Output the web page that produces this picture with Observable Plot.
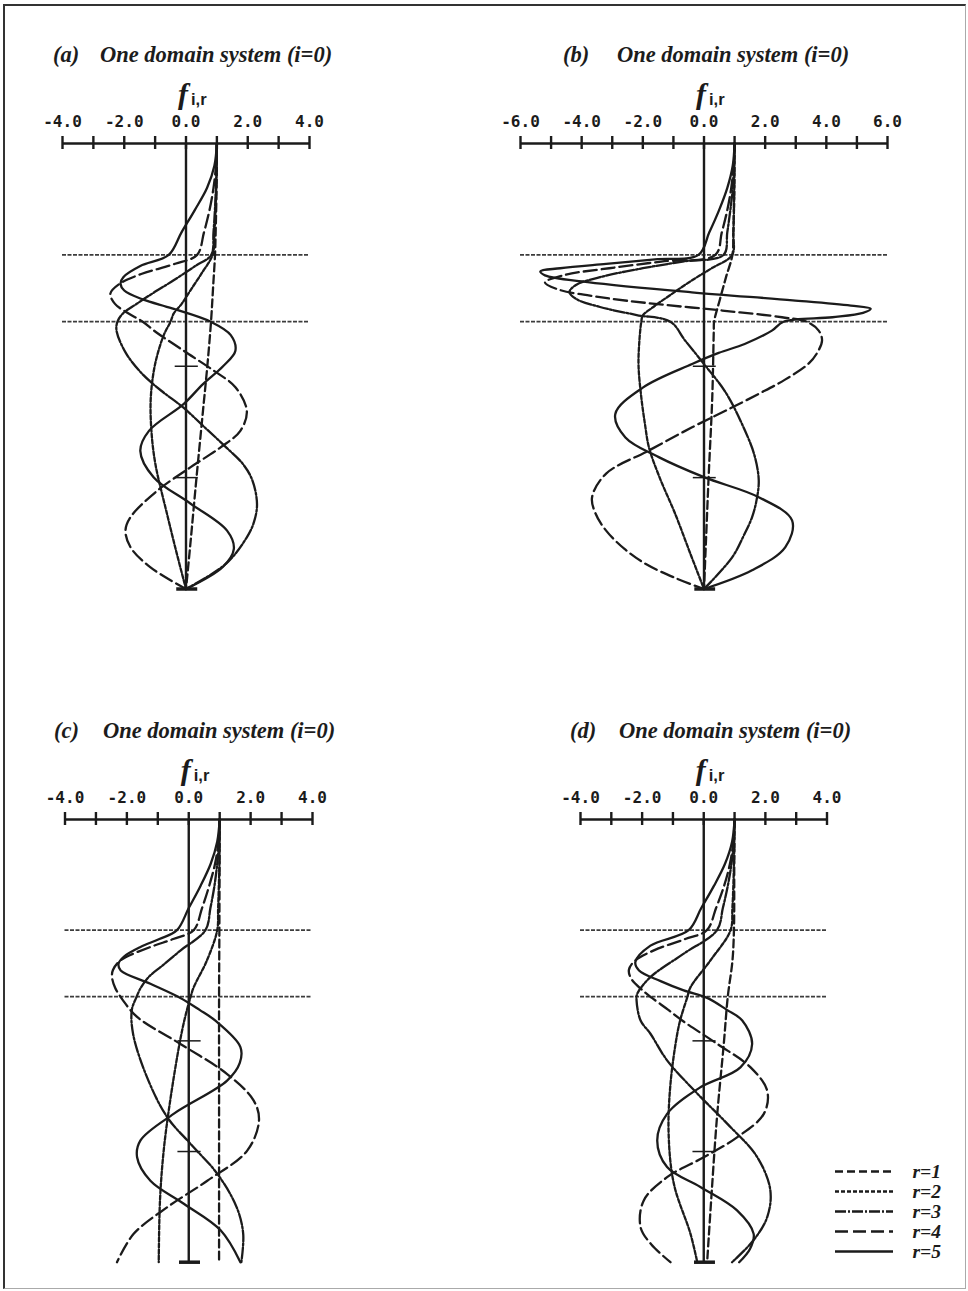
<!DOCTYPE html>
<html>
<head>
<meta charset="utf-8">
<script src="https://cdn.jsdelivr.net/npm/d3@7"></script>
<script src="https://cdn.jsdelivr.net/npm/@observablehq/plot@0.6"></script>
<style>
  body { margin: 0; background: #fff; }
  #page { position: relative; width: 968px; height: 1291px; overflow: hidden; background: #fff; }
  .panel { position: absolute; }
  .title { position: absolute; font-family: "Liberation Serif", "DejaVu Serif", serif; font-style: italic; font-weight: bold;
           font-size: 22.5px; line-height: 23px; color: #1c1c1c; white-space: nowrap; }
  .frame { position: absolute; left: 3px; top: 4px; width: 960px; height: 1282px; pointer-events: none;
           border-top: 2px solid #333; border-left: 2px solid #333; border-right: 1px solid #aaa; border-bottom: 1px solid #aaa; }
  g[aria-label="tick label"] text { letter-spacing: 2.2px; }
  g[aria-label="legend label"] text { letter-spacing: 0.8px; }
</style>
</head>
<body>
<div id="page"></div>
<script>
// Normalised depth (0 = surface, 1 = base); each pair is [depth, f_i,r]
const interfaceDepths = [0.25, 0.4];
const markerDepths = [0.5, 0.75];
const modeLabels = ["r=1", "r=2", "r=3", "r=4", "r=5"];

const ticks4 = [-4, -3, -2, -1, 0, 1, 2, 3, 4];
const labels4 = [-4, -2, 0, 2, 4];
const ticks6 = [-6, -5, -4, -3, -2, -1, 0, 1, 2, 3, 4, 5, 6];
const labels6 = [-6, -4, -2, 0, 2, 4, 6];

// (a)
const a_r1 = [[0,1],[0.1,0.99],[0.2,0.96],[0.25,0.94],[0.32,0.88],[0.4,0.81],[0.5,0.69],[0.6,0.55],[0.75,0.34],[0.9,0.14],[1,0]];
const a_r2 = [[0,1],[0.1,0.98],[0.2,0.92],[0.25,0.86],[0.29,0.52],[0.33,0.14],[0.36,-0.14],[0.382,-0.4],[0.4,-0.5],[0.43,-0.72],[0.495,-1.0],[0.57,-1.14],[0.645,-1.12],[0.72,-0.99],[0.83,-0.62],[0.92,-0.3],[1,0]];
const a_r3 = [[0,1],[0.1,0.97],[0.2,0.89],[0.25,0.82],[0.275,0.3],[0.307,-0.4],[0.335,-1.05],[0.36,-1.6],[0.382,-2.05],[0.4,-2.22],[0.42,-2.25],[0.47,-1.95],[0.517,-1.42],[0.555,-0.8],[0.592,-0.1],[0.64,0.65],[0.682,1.3],[0.72,1.85],[0.756,2.15],[0.81,2.3],[0.85,2.2],[0.884,1.97],[0.943,1.3],[1,0]];
const a_r4 = [[0,1],[0.05,0.97],[0.1,0.89],[0.15,0.76],[0.2,0.58],[0.25,0.36],[0.27,-0.35],[0.293,-1.45],[0.315,-2.15],[0.337,-2.45],[0.36,-2.3],[0.38,-1.9],[0.4,-1.4],[0.422,-1.0],[0.465,-0.08],[0.51,0.9],[0.547,1.6],[0.6,1.97],[0.645,1.76],[0.682,1.12],[0.727,0.14],[0.78,-0.94],[0.839,-1.8],[0.869,-1.96],[0.906,-1.8],[0.951,-1.16],[1,0]];
const a_r5 = [[0,1],[0.05,0.92],[0.1,0.68],[0.15,0.28],[0.2,-0.15],[0.25,-0.56],[0.275,-1.48],[0.3,-2.03],[0.315,-2.12],[0.33,-2.0],[0.35,-1.4],[0.37,-0.45],[0.4,0.8],[0.43,1.45],[0.465,1.6],[0.5,1.2],[0.54,0.55],[0.585,-0.08],[0.645,-1.2],[0.69,-1.48],[0.749,-1.05],[0.808,0.14],[0.869,1.33],[0.91,1.55],[0.95,1.2],[1,0]];

// (b)
const b_r1 = [[0,1],[0.1,0.99],[0.2,0.96],[0.25,0.93],[0.3,0.72],[0.35,0.52],[0.4,0.33],[0.42,0.32],[0.57,0.27],[0.75,0.15],[0.9,0.06],[1,0]];
const b_r2 = [[0,1],[0.1,0.99],[0.2,0.96],[0.25,0.92],[0.28,0.25],[0.307,-0.39],[0.34,-1.1],[0.37,-1.72],[0.386,-2.0],[0.4,-2.05],[0.45,-2.12],[0.5,-2.14],[0.57,-2.05],[0.63,-1.93],[0.682,-1.8],[0.75,-1.45],[0.83,-0.95],[0.92,-0.45],[1,0]];
const b_r3 = [[0,1],[0.1,0.94],[0.15,0.86],[0.2,0.76],[0.25,0.64],[0.265,-0.7],[0.28,-2.0],[0.3,-3.4],[0.318,-4.2],[0.334,-4.4],[0.35,-4.15],[0.367,-3.4],[0.385,-2.2],[0.4,-1.1],[0.442,-0.62],[0.495,0],[0.56,0.72],[0.646,1.35],[0.7,1.65],[0.756,1.79],[0.8,1.72],[0.839,1.57],[0.88,1.3],[0.929,0.92],[1,0]];
const b_r4 = [[0,1],[0.05,0.97],[0.1,0.89],[0.15,0.76],[0.2,0.58],[0.25,0.37],[0.265,-1.4],[0.28,-3.1],[0.295,-4.55],[0.312,-5.2],[0.328,-4.75],[0.345,-3.4],[0.36,-1.6],[0.375,0.6],[0.39,2.55],[0.4,3.35],[0.42,3.75],[0.442,3.86],[0.47,3.7],[0.494,3.42],[0.53,2.65],[0.562,1.79],[0.6,0.7],[0.637,-0.39],[0.689,-1.8],[0.741,-3.2],[0.794,-3.66],[0.83,-3.55],[0.869,-3.2],[0.91,-2.6],[0.944,-1.9],[0.975,-0.95],[1,0]];
const b_r5 = [[0,1],[0.05,0.94],[0.1,0.76],[0.15,0.49],[0.2,0.17],[0.25,-0.18],[0.26,-1.6],[0.27,-3.2],[0.28,-4.7],[0.287,-5.35],[0.296,-5.2],[0.311,-3.8],[0.334,-0.4],[0.352,2.9],[0.364,4.8],[0.371,5.45],[0.38,5.2],[0.39,4.2],[0.4,2.6],[0.42,2.22],[0.45,1.33],[0.47,0.48],[0.495,-0.39],[0.548,-2.0],[0.607,-2.9],[0.66,-2.57],[0.704,-1.48],[0.749,0],[0.794,1.79],[0.846,2.88],[0.906,2.66],[0.958,1.57],[1,0]];

// (c)
const c_r1 = [[0,1],[0.25,0.99],[0.4,0.98],[0.6,0.98],[0.8,0.98],[1,0.98]];
const c_r2 = [[0,1],[0.1,0.99],[0.2,0.95],[0.25,0.92],[0.318,0.59],[0.379,0.16],[0.403,0.05],[0.45,-0.13],[0.507,-0.3],[0.635,-0.6],[0.748,-0.81],[0.861,-0.93],[1,-0.97]];
const c_r3 = [[0,1],[0.05,0.98],[0.1,0.92],[0.15,0.83],[0.2,0.7],[0.25,0.54],[0.296,-0.27],[0.33,-0.85],[0.356,-1.3],[0.38,-1.55],[0.403,-1.7],[0.43,-1.84],[0.484,-1.8],[0.582,-1.35],[0.672,-0.7],[0.733,0.06],[0.8,0.92],[0.876,1.55],[0.936,1.76],[1,1.7]];
const c_r4 = [[0,1],[0.05,0.96],[0.1,0.85],[0.15,0.66],[0.2,0.43],[0.25,0.16],[0.27,-0.5],[0.288,-1.24],[0.318,-2.2],[0.34,-2.45],[0.356,-2.48],[0.38,-2.38],[0.409,-2.12],[0.447,-1.65],[0.507,-0.27],[0.575,1.24],[0.635,2.1],[0.68,2.27],[0.748,1.89],[0.816,0.6],[0.876,-0.7],[0.936,-1.78],[1,-2.32]];
const c_r5 = [[0,1],[0.05,0.92],[0.1,0.71],[0.15,0.38],[0.2,0.0],[0.25,-0.38],[0.27,-0.95],[0.288,-1.56],[0.31,-2.1],[0.326,-2.27],[0.341,-2.2],[0.371,-1.24],[0.403,-0.27],[0.43,0.35],[0.454,0.85],[0.514,1.67],[0.55,1.65],[0.59,1.24],[0.665,-0.49],[0.725,-1.56],[0.763,-1.67],[0.816,-1.24],[0.868,-0.16],[0.928,1.03],[1,1.67]];

// (d)
const d_r1 = [[0,1],[0.1,0.99],[0.25,0.98],[0.32,0.93],[0.4,0.78],[0.507,0.65],[0.672,0.43],[0.85,0.25],[1,0.11]];
const d_r2 = [[0,1],[0.1,0.98],[0.2,0.93],[0.25,0.87],[0.318,0.22],[0.379,-0.43],[0.403,-0.54],[0.447,-0.74],[0.484,-0.86],[0.597,-1.08],[0.71,-1.14],[0.823,-0.97],[0.936,-0.43],[1,-0.21]];
const d_r3 = [[0,1],[0.05,0.97],[0.1,0.9],[0.15,0.78],[0.2,0.62],[0.25,0.43],[0.303,-0.65],[0.356,-1.73],[0.394,-2.16],[0.409,-2.18],[0.454,-2.05],[0.484,-1.73],[0.544,-1.19],[0.619,-0.21],[0.687,0.76],[0.762,1.73],[0.837,2.16],[0.898,2.06],[0.95,1.62],[1,0.92]];
const d_r4 = [[0,1],[0.05,0.96],[0.1,0.85],[0.15,0.66],[0.2,0.4],[0.25,0.1],[0.27,-0.6],[0.295,-1.6],[0.32,-2.25],[0.34,-2.43],[0.36,-2.35],[0.385,-2.0],[0.403,-1.68],[0.43,-1.15],[0.454,-0.7],[0.507,0.44],[0.56,1.52],[0.613,2.06],[0.665,1.95],[0.718,1.08],[0.763,0],[0.808,-1.19],[0.861,-1.95],[0.921,-2.05],[0.96,-1.7],[1,-1.08]];
const d_r5 = [[0,1],[0.05,0.92],[0.1,0.69],[0.15,0.33],[0.2,-0.08],[0.25,-0.49],[0.285,-1.73],[0.322,-2.22],[0.341,-2.1],[0.365,-1.4],[0.386,-0.65],[0.403,0.11],[0.43,0.75],[0.454,1.25],[0.507,1.57],[0.56,1.19],[0.605,-0.11],[0.665,-1.19],[0.725,-1.51],[0.785,-1.19],[0.83,-0.11],[0.883,1.08],[0.936,1.62],[0.97,1.5],[1,1.15]];

const ink = "#1b1b1b";
const dashes = ["8,4", "4,2", "11,2,2,2", "13,5", null];
const curveWidth = 2.3;

const page = document.getElementById("page");

function place(node, left, top) {
  const wrap = document.createElement("div");
  wrap.className = "panel";
  wrap.style.left = left + "px";
  wrap.style.top = top + "px";
  wrap.appendChild(node);
  page.appendChild(wrap);
}

function title(letter, left, rest, restLeft, top) {
  const a = document.createElement("div");
  a.className = "title"; a.textContent = letter;
  a.style.left = left + "px"; a.style.top = top + "px";
  const b = document.createElement("div");
  b.className = "title"; b.textContent = rest;
  b.style.left = restLeft + "px"; b.style.top = top + "px";
  page.appendChild(a); page.appendChild(b);
}

function modePanel({curves, domain, ticks, labels, width, height, marginLeft, marginRight, marginTop, marginBottom}) {
  const [x0, x1] = domain;
  const h = height - marginTop - marginBottom;
  const px = (p) => p / h; // pixel offset expressed in depth units
  return Plot.plot({
    width, height, marginLeft, marginRight, marginTop, marginBottom,
    style: {background: "transparent", overflow: "visible"},
    x: {domain, axis: null},
    y: {domain: [0, 1], reverse: true, axis: null},
    marks: [
      // layer interfaces
      Plot.ruleY(interfaceDepths, {x1: x0, x2: x1, stroke: "#3c3c3c", strokeWidth: 1.8, strokeDasharray: "4,1.5"}),
      // top axis with ticks both sides
      Plot.ruleY([0], {x1: x0, x2: x1, stroke: ink, strokeWidth: 2.4}),
      Plot.ruleX(ticks, {y1: -px(7), y2: px(6), stroke: ink, strokeWidth: 2.4}),
      Plot.text(labels, {x: d => d, y: 0, dy: -17, lineAnchor: "bottom", text: d => d.toFixed(1),
        fontFamily: "DejaVu Sans Mono", fontWeight: "bold", fontSize: 16, fill: ink, ariaLabel: "tick label"}),
      // zero line, sub-layer marks and base
      Plot.ruleX([0], {y1: 0, y2: 1, stroke: ink, strokeWidth: 2.4}),
      Plot.ruleY(markerDepths, {x1: -0.35, x2: 0.4, stroke: ink, strokeWidth: 1.5}),
      Plot.ruleY([1], {x1: -0.3, x2: 0.38, stroke: ink, strokeWidth: 3.5}),
      // mode shapes
      ...curves.map((c, i) => Plot.line(c, {x: d => d[1], y: d => d[0], curve: "catmull-rom",
        stroke: ink, strokeWidth: curveWidth, strokeDasharray: dashes[i] ?? undefined})),
      // f_{i,r}
      Plot.text(["f"], {x: 0, y: 0, dx: -3, dy: -40, lineAnchor: "bottom", textAnchor: "middle",
        fontFamily: "Liberation Serif", fontStyle: "italic", fontWeight: "bold", fontSize: 30, fill: ink}),
      Plot.text(["i,r"], {x: 0, y: 0, dx: 5, dy: -39, lineAnchor: "bottom", textAnchor: "start",
        fontFamily: "Liberation Sans", fontWeight: "bold", fontSize: 16.5, fill: ink})
    ]
  });
}

// (a)
place(modePanel({curves: [a_r1, a_r2, a_r3, a_r4, a_r5], domain: [-4, 4], ticks: ticks4, labels: labels4,
  width: 360, height: 540, marginLeft: 62, marginRight: 51, marginTop: 73, marginBottom: 21.5}), 0, 70);
// (b)
place(modePanel({curves: [b_r1, b_r2, b_r3, b_r4, b_r5], domain: [-6, 6], ticks: ticks6, labels: labels6,
  width: 440, height: 540, marginLeft: 40, marginRight: 33, marginTop: 73, marginBottom: 21.5}), 480, 70);
// (c)
place(modePanel({curves: [c_r1, c_r2, c_r3, c_r4, c_r5], domain: [-4, 4], ticks: ticks4, labels: labels4,
  width: 360, height: 540, marginLeft: 64.5, marginRight: 48, marginTop: 73, marginBottom: 24.3}), 0, 746);
// (d)
place(modePanel({curves: [d_r1, d_r2, d_r3, d_r4, d_r5], domain: [-4, 4], ticks: ticks4, labels: labels4,
  width: 400, height: 540, marginLeft: 100, marginRight: 53.5, marginTop: 73, marginBottom: 24.3}), 480, 746);

// legend
const legend = Plot.plot({
  width: 148, height: 120, marginLeft: 0, marginRight: 0, marginTop: 0, marginBottom: 0,
  style: {background: "transparent", overflow: "visible"},
  x: {domain: [0, 1], range: [15, 73], axis: null},
  y: {type: "point", domain: modeLabels, range: [20.7, 101.7], padding: 0, axis: null},
  marks: [
    ...modeLabels.map((r, i) => Plot.ruleY([r], {x1: 0, x2: 1, stroke: ink, strokeWidth: curveWidth, strokeDasharray: dashes[i] ?? undefined})),
    Plot.text(modeLabels, {x: 1, y: d => d, dx: 19, textAnchor: "start", fontFamily: "Liberation Serif",
      fontStyle: "italic", fontWeight: "bold", fontSize: 19.5, fill: ink, ariaLabel: "legend label"})
  ]
});
place(legend, 820, 1150);

title("(a)", 53, "One domain system (i=0)", 100, 43);
title("(b)", 563, "One domain system (i=0)", 617, 43);
title("(c)", 54, "One domain system (i=0)", 103, 719);
title("(d)", 570, "One domain system (i=0)", 619, 719);

const frame = document.createElement("div");
frame.className = "frame";
page.appendChild(frame);
</script>
</body>
</html>
